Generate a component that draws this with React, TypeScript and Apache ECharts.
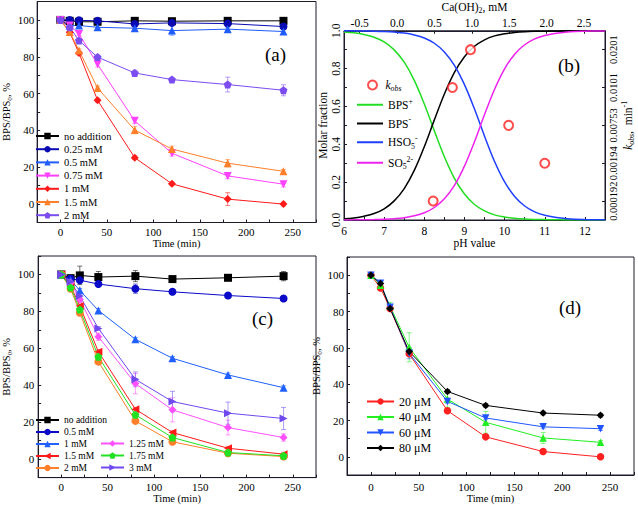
import React, { useEffect, useRef } from 'react';
import * as echarts from 'echarts';

const FONT = '"Liberation Serif", "Times New Roman", Times, serif';
const AXIS_COLOR = '#1c1c2c';

// ---------- shared time points ----------
const timePoints = [0, 10, 20, 40, 80, 120, 180, 240];

// ---------- panel (a) ----------
const aNames = ['no addition', '0.25 mM', '0.5 mM', '0.75 mM', '1 mM', '1.5 mM', '2 mM'];
const aNoAddition = [100, 99.5, 99, 99, 99.5, 99.3, 99.5, 99.5];
const a025 = [100, 100, 99.8, 99.5, 97.8, 98.4, 98, 96.4];
const a05 = [100, 97, 97, 96, 95.5, 94.2, 95, 93.7];
const a075 = [100, 97, 92.4, 75.9, 45.2, 27.6, 15.3, 10.8];
const a1 = [100, 93.3, 82, 56.4, 25.2, 11, 2.7, 0];
const a15 = [100, 93.5, 83.4, 63, 40.2, 29.9, 22.2, 17.8];
const a2 = [100, 96, 88.8, 79.8, 71.2, 67.6, 64.9, 61.8];
const aNoAdditionErr = [0, 0.5, 0.5, 0.5, 0.5, 0.5, 0.5, 0.5];
const a025Err = [0, 0.5, 0.5, 0.5, 1, 0.5, 1, 1];
const a05Err = [0, 0.5, 0.5, 1.5, 1, 2.5, 1, 1];
const a075Err = [0, 1, 1, 1.5, 1.5, 1.5, 1.5, 1.5];
const a1Err = [0, 1, 1, 1, 1, 1, 3.5, 1];
const a15Err = [0, 1, 1, 1, 2, 1.5, 2, 1];
const a2Err = [0, 1, 1, 1, 1.5, 1, 4, 3];

// ---------- panel (b) ----------
const pH = [6, 6.25, 6.5, 6.75, 7, 7.25, 7.5, 7.75, 8, 8.25, 8.5, 8.75, 9, 9.25, 9.5, 9.75, 10, 10.25, 10.5, 10.75, 11, 11.25, 11.5, 11.75, 12, 12.25, 12.5];
const bpsPlus = [0.994, 0.989, 0.98, 0.966, 0.941, 0.899, 0.834, 0.738, 0.613, 0.471, 0.334, 0.22, 0.137, 0.082, 0.048, 0.027, 0.016, 0.009, 0.005, 0.003, 0.002, 0.001, 0.0005, 0.0003, 0.0002, 0.0001, 0];
const bpsMinus = [0.006, 0.011, 0.02, 0.034, 0.059, 0.101, 0.166, 0.262, 0.387, 0.529, 0.666, 0.78, 0.863, 0.918, 0.952, 0.973, 0.984, 0.991, 0.995, 0.997, 0.998, 0.999, 0.9995, 0.9997, 0.9998, 0.9999, 1];
const hso5 = [0.9996, 0.9993, 0.9987, 0.9978, 0.996, 0.993, 0.988, 0.978, 0.962, 0.934, 0.888, 0.817, 0.715, 0.586, 0.443, 0.309, 0.201, 0.124, 0.074, 0.043, 0.025, 0.014, 0.008, 0.004, 0.0025, 0.0014, 0.0008];
const so5 = [0.0004, 0.0007, 0.0013, 0.0022, 0.004, 0.007, 0.012, 0.022, 0.038, 0.066, 0.112, 0.183, 0.285, 0.414, 0.557, 0.691, 0.799, 0.876, 0.926, 0.957, 0.975, 0.986, 0.992, 0.996, 0.9975, 0.9986, 0.9992];
const kobsPH = [8.22, 8.7, 9.15, 10.1, 11.0];
const kobsValues = ['0.000192', '0.0101', '0.0201', '0.00753', '0.00194'];
const kobsTickPos = [0.1, 0.3, 0.5, 0.7, 0.9];
const kobsTickLabels = ['0.000192', '0.00194', '0.00753', '0.0101', '0.0201'];
const caTicks = [-0.5, 0, 0.5, 1, 1.5, 2, 2.5];

// ---------- panel (c) ----------
const cNamesCol1 = ['no addition', '0.5 mM', '1 mM', '1.5 mM', '2 mM'];
const cNamesCol2 = ['1.25 mM', '1.75 mM', '3 mM'];
const cNoAddition = [100, 98, 99.5, 98.6, 99.1, 97.5, 98.2, 99.1];
const c05 = [100, 97.7, 96.9, 94.8, 92.3, 90.6, 88.6, 87];
const c1 = [100, 97, 91.4, 80.5, 64.9, 54.6, 45.6, 38.7];
const c125 = [100, 95.5, 86.5, 66.3, 40.9, 26.7, 17.1, 11.7];
const c15 = [100, 94, 82.9, 58.2, 27, 14.4, 5.9, 2.7];
const c175 = [100, 93, 81, 55.5, 24, 11.7, 3.6, 1.8];
const c2 = [100, 92.3, 79.3, 52.8, 20.7, 9.4, 3.2, 1.4];
const c3 = [100, 96, 88.3, 70.8, 43.2, 31.2, 24.9, 22];
const cNoAdditionErr = [0, 0.5, 5, 3, 3, 1, 1.5, 2.5];
const c05Err = [0, 0.5, 0.5, 0.5, 2.5, 0.5, 0.5, 0.5];
const c1Err = [0, 1, 1, 1, 1, 1, 1, 1];
const c125Err = [0, 1, 1, 2, 5.5, 6.5, 4, 2];
const c15Err = [0, 1, 1, 1, 1, 1, 1, 1];
const c175Err = [0, 1, 1, 1, 1, 1, 1, 1];
const c2Err = [0, 1, 1, 1, 1, 1, 1, 1];
const c3Err = [0, 1, 1, 1, 4, 5.5, 6, 6];

// ---------- panel (d) ----------
const dNames = ['20 μM', '40 μM', '60 μM', '80 μM'];
const d20 = [100, 93, 81.7, 56.7, 25.4, 11, 2.9, 0];
const d40 = [100, 94.5, 83, 60.3, 31.8, 19, 10.4, 8];
const d60 = [100, 95.5, 82.3, 57, 30.5, 21.4, 16.5, 15.5];
const d80 = [100, 95.4, 81.7, 58, 36, 28.3, 24.1, 22.9];
const d20Err = [0, 1, 1, 1, 1, 1, 1, 1];
const d40Err = [0, 1, 2, 8, 4.5, 6, 3, 1];
const d60Err = [0, 1, 1, 3, 1, 1, 1, 1];
const d80Err = [0, 1, 1, 1, 1, 1, 1, 1];

// ---------- symbols ----------
const SYM_DOWN = 'path://M-1,-0.85 L1,-0.85 L0,1 Z';
const SYM_LEFT = 'path://M1,-1 L1,1 L-0.85,0 Z';
const SYM_RIGHT = 'path://M-1,-1 L-1,1 L0.85,0 Z';
const SYM_PENT = 'path://M0,-1 L0.951,-0.309 L0.588,0.809 L-0.588,0.809 L-0.951,-0.309 Z';

const rich = (fs: number) => ({
  n: { fontFamily: FONT, fontSize: fs, lineHeight: fs + 4, color: '#000' },
  i: { fontFamily: FONT, fontSize: fs, lineHeight: fs + 4, color: '#000', fontStyle: 'italic' },
  s: { fontFamily: FONT, fontSize: fs * 0.68, lineHeight: fs * 0.68, color: '#000', verticalAlign: 'bottom' },
  is: { fontFamily: FONT, fontSize: fs * 0.68, lineHeight: fs * 0.68, color: '#000', verticalAlign: 'bottom', fontStyle: 'italic' },
  p: { fontFamily: FONT, fontSize: fs * 0.68, lineHeight: fs * 0.68, color: '#000', verticalAlign: 'top' },
});

function lineSeries(prefix: string, name: string, data: number[], color: string, symbol: string, xi: number, yi: number, size = 8) {
  return {
    type: 'line',
    name: prefix + '|' + name,
    xAxisIndex: xi,
    yAxisIndex: yi,
    data: timePoints.map((t, i) => [t, data[i]]),
    symbol,
    symbolSize: size,
    showSymbol: true,
    lineStyle: { color, width: 1 },
    itemStyle: { color },
    z: 3,
  };
}

function errSeries(xi: number, yi: number, data: number[], err: number[], color: string) {
  return {
    type: 'custom',
    xAxisIndex: xi,
    yAxisIndex: yi,
    silent: true,
    z: 2,
    data: timePoints.map((t, i) => [t, data[i] - err[i], data[i] + err[i]]),
    encode: { x: 0, y: [1, 2] },
    renderItem: (params: any, api: any) => {
      const lo = api.coord([api.value(0), api.value(1)]);
      const hi = api.coord([api.value(0), api.value(2)]);
      const w = 2.5;
      const style = { stroke: color, lineWidth: 1, opacity: 0.55 };
      return {
        type: 'group',
        children: [
          { type: 'line', shape: { x1: lo[0], y1: lo[1], x2: hi[0], y2: hi[1] }, style },
          { type: 'line', shape: { x1: lo[0] - w, y1: lo[1], x2: lo[0] + w, y2: lo[1] }, style },
          { type: 'line', shape: { x1: hi[0] - w, y1: hi[1], x2: hi[0] + w, y2: hi[1] }, style },
        ],
      };
    },
  };
}

const axisLine = { show: true, onZero: false, lineStyle: { color: AXIS_COLOR, width: 1 } };
const axisTick = { show: true, inside: true, length: 3, lineStyle: { color: AXIS_COLOR, width: 1 } };

function timeAxis(gridIndex: number, nameGap: number, margin: number) {
  return {
    type: 'value', gridIndex, min: -25, max: 275, interval: 25,
    axisLine, axisTick, splitLine: { show: false },
    axisLabel: {
      color: '#000', fontFamily: FONT, fontSize: 11, margin,
      formatter: (v: number) => (v >= 0 && v <= 250 && v % 50 === 0 ? String(v) : ''),
    },
    name: 'Time (min)', nameLocation: 'middle', nameGap,
    nameTextStyle: { color: '#000', fontFamily: FONT, fontSize: 10.5 },
  };
}

function pctAxis(gridIndex: number, nameGap: number, margin: number) {
  return {
    type: 'value', gridIndex, min: -10, max: 110, interval: 10,
    axisLine, axisTick, splitLine: { show: false },
    axisLabel: {
      color: '#000', fontFamily: FONT, fontSize: 11, margin,
      formatter: (v: number) => (v >= 0 && v <= 100 && v % 20 === 0 ? String(v) : ''),
    },
    name: '{n|BPS/BPS}{s|0}{n|, %}', nameLocation: 'middle', nameGap, nameRotate: 90,
    nameTextStyle: { rich: rich(10.5) },
  };
}

const strip = (n: string) => n.split('|')[1];

function buildOption() {
  const A = 'a', C = 'c', D = 'd';
  const aSpec = [
    [aNoAddition, aNoAdditionErr, '#000000', 'rect'],
    [a025, a025Err, '#0a0ab4', 'circle'],
    [a05, a05Err, '#1f5bff', 'triangle'],
    [a075, a075Err, '#ff40ff', SYM_DOWN],
    [a1, a1Err, '#ff1a1a', 'diamond'],
    [a15, a15Err, '#ff7f2a', 'triangle'],
    [a2, a2Err, '#7b4cf0', SYM_PENT],
  ] as [number[], number[], string, string][];
  const cAll = [...cNamesCol1, ...cNamesCol2];
  const cSpec = [
    [cNoAddition, cNoAdditionErr, '#000000', 'rect'],
    [c05, c05Err, '#0a0ac8', 'circle'],
    [c1, c1Err, '#2060ff', 'triangle'],
    [c15, c15Err, '#ff1a1a', SYM_LEFT],
    [c2, c2Err, '#ff7f2a', 'circle'],
    [c125, c125Err, '#ff50ff', 'diamond'],
    [c175, c175Err, '#22e022', SYM_PENT],
    [c3, c3Err, '#7048f0', SYM_RIGHT],
  ] as [number[], number[], string, string][];
  const dSpec = [
    [d20, d20Err, '#ff2020', 'circle'],
    [d40, d40Err, '#22ee22', 'triangle'],
    [d60, d60Err, '#2255ff', SYM_DOWN],
    [d80, d80Err, '#000000', 'diamond'],
  ] as [number[], number[], string, string][];

  const series: any[] = [];
  aSpec.forEach(([d, e, col]) => series.push(errSeries(0, 0, d, e, col)));
  aSpec.forEach(([d, e, col, sym], i) => series.push(lineSeries(A, aNames[i], d, col, sym, 0, 0, 8)));
  cSpec.forEach(([d, e, col]) => series.push(errSeries(3, 3, d, e, col)));
  cSpec.forEach(([d, e, col, sym], i) => series.push(lineSeries(C, cAll[i], d, col, sym, 3, 3, 8)));
  dSpec.forEach(([d, e, col]) => series.push(errSeries(4, 4, d, e, col)));
  dSpec.forEach(([d, e, col, sym], i) => series.push(lineSeries(D, dNames[i], d, col, sym, 4, 4, 7.5)));

  const bCurves: [string, number[], string][] = [
    ['BPS+', bpsPlus, '#22dd22'],
    ['BPS-', bpsMinus, '#000000'],
    ['HSO5-', hso5, '#1f3fff'],
    ['SO52-', so5, '#ee22ee'],
  ];
  bCurves.forEach(([name, vals, col]) => {
    series.push({
      type: 'line', name, xAxisIndex: 1, yAxisIndex: 1,
      data: pH.map((x, i) => [x, vals[i]]),
      symbol: 'none', smooth: 0.35,
      lineStyle: { color: col, width: 1.5 }, itemStyle: { color: col }, z: 3,
    });
  });
  series.push({
    type: 'scatter', name: 'kobs', xAxisIndex: 1, yAxisIndex: 2,
    data: kobsPH.map((x, i) => [x, kobsTickPos[kobsTickLabels.indexOf(kobsValues[i])]]),
    symbol: 'emptyCircle', symbolSize: 9,
    itemStyle: { color: '#ff2020', borderWidth: 1.3 }, z: 4,
  });

  const bLegendText: Record<string, string> = {
    'BPS+': '{n|BPS}{p|+}',
    'BPS-': '{n|BPS}{p|-}',
    'HSO5-': '{n|HSO}{s|5}{p|-}',
    'SO52-': '{n|SO}{s|5}{p|2-}',
    kobs: '{i|k}{is|obs}',
  };

  const legendBase = { orient: 'vertical', padding: 0, itemWidth: 23, itemHeight: 8, selectedMode: false };

  return {
    animation: false,
    backgroundColor: '#ffffff',
    grid: [
      { left: 29, top: 1.5, width: 287, height: 221 },
      { left: 344, top: 28, width: 261, height: 192 },
      { left: 29, top: 256, width: 287, height: 223 },
      { left: 347, top: 257, width: 287, height: 218 },
    ].map((g) => ({ ...g, show: true, borderColor: AXIS_COLOR, borderWidth: 1, backgroundColor: 'transparent' })),
    xAxis: [
      timeAxis(0, 12.5, 4),
      {
        type: 'value', gridIndex: 1, min: 6, max: 12.5, interval: 0.5,
        axisLine, axisTick, splitLine: { show: false },
        axisLabel: {
          color: '#000', fontFamily: FONT, fontSize: 11.5, margin: 4.5, showMaxLabel: false,
          formatter: (v: number) => (Math.abs(v - Math.round(v)) < 1e-6 ? String(Math.round(v)) : ''),
        },
        name: 'pH value', nameLocation: 'middle', nameGap: 17,
        nameTextStyle: { color: '#000', fontFamily: FONT, fontSize: 11.5 },
      },
      {
        type: 'value', gridIndex: 1, position: 'top', min: -0.71, max: 2.78,
        axisLine, axisTick: { ...axisTick, customValues: caTicks }, splitLine: { show: false },
        axisLabel: {
          customValues: caTicks, color: '#000', fontFamily: FONT, fontSize: 11.5, margin: 2,
          formatter: (v: number) => v.toFixed(1),
        },
        name: '{n|Ca(OH)}{s|2}{n|, mM}', nameLocation: 'middle', nameGap: 16,
        nameTextStyle: { rich: rich(11.5) },
      },
      timeAxis(2, 14, 3.5),
      timeAxis(3, 18, 6),
    ],
    yAxis: [
      pctAxis(0, 15, 3),
      {
        type: 'value', gridIndex: 1, min: 0, max: 1, interval: 0.1,
        axisLine, axisTick, splitLine: { show: false },
        axisLabel: {
          color: '#000', fontFamily: FONT, fontSize: 11.5, margin: 2, rotate: 90,
          formatter: (v: number) => (Math.round(v * 10) % 2 === 0 ? v.toFixed(1) : ''),
        },
        name: 'Molar fraction', nameLocation: 'middle', nameGap: 12, nameRotate: 90,
        nameTextStyle: { color: '#000', fontFamily: FONT, fontSize: 11.5 },
      },
      {
        type: 'value', gridIndex: 1, position: 'right', min: 0, max: 1,
        axisLine, axisTick: { ...axisTick, customValues: kobsTickPos }, splitLine: { show: false },
        axisLabel: {
          customValues: kobsTickPos, color: '#000', fontFamily: FONT, fontSize: 10.5, margin: 3, rotate: 90,
          formatter: (v: number) => {
            const i = kobsTickPos.findIndex((p) => Math.abs(p - v) < 1e-6);
            return i >= 0 ? kobsTickLabels[i] : '';
          },
        },
        name: '{i|k}{is|obs}{n|,  min}{p|-1}', nameLocation: 'middle', nameGap: 15, nameRotate: 90,
        nameTextStyle: { rich: rich(11.5) },
      },
      pctAxis(2, 15, 4),
      pctAxis(3, 15, 3),
    ],
    legend: [
      {
        ...legendBase, left: 35, top: 130.5, itemGap: 2.2,
        data: aNames.map((n) => A + '|' + n), formatter: strip,
        textStyle: { fontFamily: FONT, fontSize: 10.5, color: '#000' },
      },
      {
        ...legendBase, left: 35, top: 415, itemGap: 2,
        data: cNamesCol1.map((n) => C + '|' + n), formatter: strip,
        textStyle: { fontFamily: FONT, fontSize: 9.5, color: '#000' },
      },
      {
        ...legendBase, left: 100, top: 438.5, itemGap: 2,
        data: cNamesCol2.map((n) => C + '|' + n), formatter: strip,
        textStyle: { fontFamily: FONT, fontSize: 9.5, color: '#000' },
      },
      {
        ...legendBase, left: 366, top: 395.5, itemGap: 3.5, itemWidth: 27,
        data: dNames.map((n) => D + '|' + n), formatter: strip,
        textStyle: { fontFamily: FONT, fontSize: 12, color: '#000' },
      },
      {
        ...legendBase, left: 367, top: 79, itemWidth: 16, itemHeight: 9,
        data: ['kobs'], formatter: (n: string) => bLegendText[n],
        textStyle: { rich: rich(11.5) },
      },
      {
        ...legendBase, left: 357, top: 97, itemGap: 5, itemWidth: 26, itemHeight: 2,
        data: ['BPS+', 'BPS-', 'HSO5-', 'SO52-'].map((n) => ({ name: n, icon: 'rect' })),
        formatter: (n: string) => bLegendText[n],
        textStyle: { rich: rich(11.5) },
      },
    ],
    graphic: [
      { type: 'text', left: 265, top: 45, style: { text: '(a)', fontFamily: FONT, fontSize: 19, fill: '#000' } },
      { type: 'text', left: 558, top: 56, style: { text: '(b)', fontFamily: FONT, fontSize: 19, fill: '#000' } },
      { type: 'text', left: 252, top: 309, style: { text: '(c)', fontFamily: FONT, fontSize: 19, fill: '#000' } },
      { type: 'text', left: 559, top: 298, style: { text: '(d)', fontFamily: FONT, fontSize: 19, fill: '#000' } },
    ],
    series,
  };
}

export default function App() {
  const ref = useRef<HTMLDivElement>(null);
  useEffect(() => {
    const chart = echarts.init(ref.current!, null, { renderer: 'svg' });
    chart.setOption(buildOption() as any);
    return () => chart.dispose();
  }, []);
  return (
    <div
      ref={ref}
      style={{ position: 'absolute', left: 0, top: 0, width: 638, height: 505, background: '#fff' }}
    />
  );
}
